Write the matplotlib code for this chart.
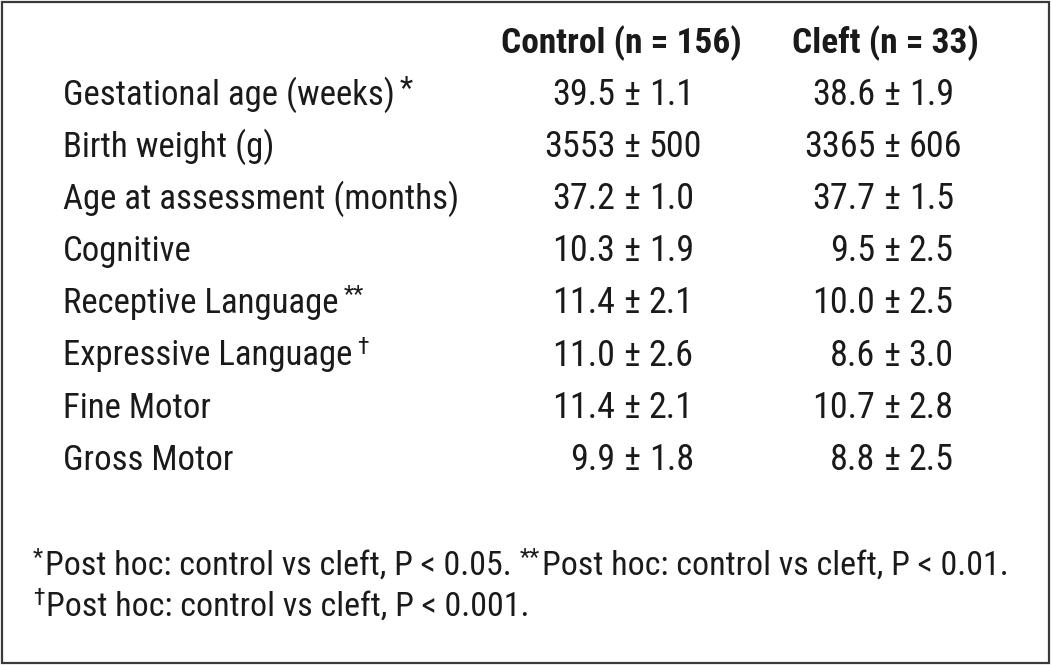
import matplotlib.pyplot as plt
from matplotlib import font_manager
from matplotlib.patches import Rectangle

# pick a narrow sans like the reference
names = set(f.name for f in font_manager.fontManager.ttflist)
prefer = ['Nimbus Sans Narrow', 'Liberation Sans Narrow', 'Arial Narrow', 'Roboto Condensed',
          'PT Sans Narrow', 'Archivo Narrow', 'Barlow Semi Condensed', 'Liberation Sans']
FONT = next(n for n in prefer if n in names)
plt.rcParams['font.family'] = [FONT, 'DejaVu Sans']

# table data
header_control = 'Control (n = 156)'
header_cleft = 'Cleft (n = 33)'
labels = ['Gestational age (weeks)', 'Birth weight (g)', 'Age at assessment (months)',
          'Cognitive', 'Receptive Language', 'Expressive Language',
          'Fine Motor', 'Gross Motor']
markers = ['*', '', '', '', '**', '\u2020', '', '']
control_mean = ['39.5', '3553', '37.2', '10.3', '11.4', '11.0', '11.4', '9.9']
control_sd = ['1.1', '500', '1.0', '1.9', '2.1', '2.6', '2.1', '1.8']
cleft_mean = ['38.6', '3365', '37.7', '9.5', '10.0', '8.6', '10.7', '8.8']
cleft_sd = ['1.9', '606', '1.5', '2.5', '2.5', '3.0', '2.8', '2.5']
footnotes = [
    [('*', True), ('Post hoc: control vs cleft, P < 0.05. ', False),
     ('**', True), ('Post hoc: control vs cleft, P < 0.01.', False)],
    [('\u2020', True), ('Post hoc: control vs cleft, P < 0.001.', False)],
]

W, H = 1051, 665
fig = plt.figure(figsize=(W / 100, H / 100), dpi=100)
ax = fig.add_axes([0, 0, 1, 1])
ax.set_xlim(0, W)
ax.set_ylim(H, 0)
ax.axis('off')

ax.add_patch(Rectangle((2, 2), W - 4, H - 4, fill=False, ec='#3a3a3a', lw=1.6))

fs_lab = 25      # row labels
fs_num = 26      # numbers
fs_head = 25.5   # bold header
fs_foot = 24.5   # footnotes
sup_fs = 17
col = '#1a1a1a'
pm_x = [632, 892]
r = fig.canvas.get_renderer()


def width(t):
    bb = t.get_window_extent(renderer=r)
    return bb.x0, bb.x1


# header
ax.text(621, 53, header_control, fontsize=fs_head, fontweight='bold', ha='center', va='baseline', color=col)
ax.text(885, 53, header_cleft, fontsize=fs_head, fontweight='bold', ha='center', va='baseline', color=col)

# gap between the plus-minus sign and the numbers
probe = ax.text(0, -100, ' \u00b1 ', fontsize=fs_num)
c, d = width(probe)
off = (d - c) / 2
probe.remove()

y0, dy = 105, 52.1
for i, lab in enumerate(labels):
    y = y0 + i * dy
    t = ax.text(63, y, lab, fontsize=fs_lab, ha='left', va='baseline', color=col)
    if markers[i]:
        x1 = width(t)[1]
        big = markers[i] == '*'
        ax.text(x1 + 5, y - (7 if big else 12), markers[i], fontsize=22 if big else sup_fs,
                ha='left', va='baseline', color=col)
    for j, (m, s) in enumerate([(control_mean, control_sd), (cleft_mean, cleft_sd)]):
        ax.text(pm_x[j], y, '\u00b1', fontsize=fs_num, ha='center', va='baseline', color=col)
        ax.text(pm_x[j] - off, y, m[i], fontsize=fs_num, ha='right', va='baseline', color=col)
        ax.text(pm_x[j] + off, y, s[i], fontsize=fs_num, ha='left', va='baseline', color=col)

# footnotes
for k, line in enumerate(footnotes):
    y = 575 + k * 41
    x = 33
    for seg, sup in line:
        if sup:
            t = ax.text(x, y - 11, seg, fontsize=sup_fs, ha='left', va='baseline', color=col)
            x = width(t)[1] + 2
        else:
            t = ax.text(x, y, seg, fontsize=fs_foot, ha='left', va='baseline', color=col)
            x = width(t)[1]

fig.savefig('out.png', dpi=100)
